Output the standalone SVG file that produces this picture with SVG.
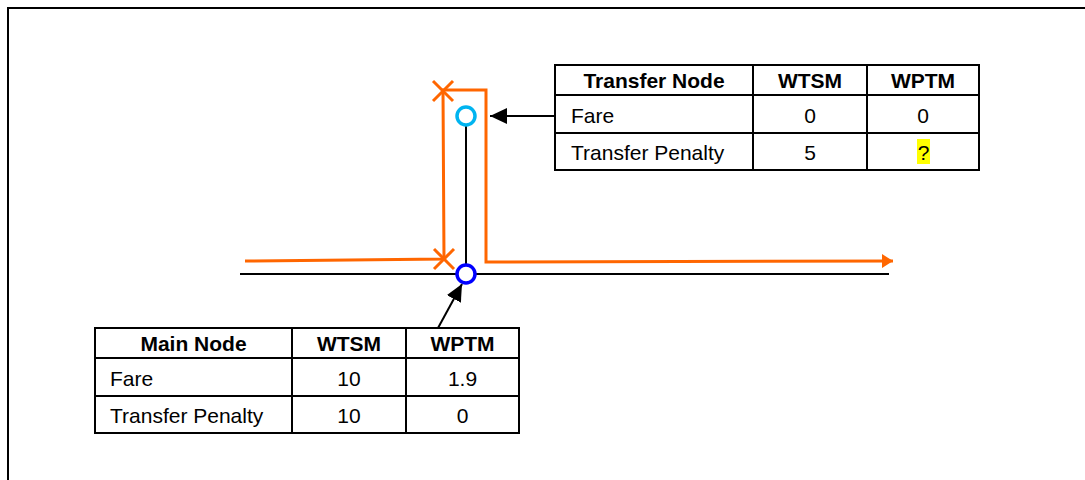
<svg xmlns="http://www.w3.org/2000/svg" width="1085" height="480" viewBox="0 0 1085 480">
<style>
.tbl{fill:#fff;stroke:#000;stroke-width:2}
.grid{stroke:#000;stroke-width:2}
.h{font-family:"Liberation Sans",Arial,sans-serif;font-size:21px;font-weight:bold;fill:#000}
.t{font-family:"Liberation Sans",Arial,sans-serif;font-size:21px;fill:#000}
.or{fill:none;stroke:#FF6600;stroke-width:3}
.bl{fill:none;stroke:#000;stroke-width:2}
</style>
<defs>
<marker id="ao" markerWidth="12" markerHeight="14" refX="11" refY="7" orient="auto" markerUnits="userSpaceOnUse"><path d="M0,0 L11,7 L0,14 Z" fill="#FF6600"/></marker>
<marker id="ab" markerWidth="18" markerHeight="16" refX="17" refY="8" orient="auto" markerUnits="userSpaceOnUse"><path d="M0,0 L17,8 L0,16 Z" fill="#000"/></marker>
</defs>
<rect x="8" y="8" width="1090" height="500" fill="#fff" stroke="#000" stroke-width="2"/>
<g id="connectors">
<line class="bl" x1="240" y1="274" x2="889" y2="274"/>
<line class="bl" x1="466" y1="124" x2="466" y2="266"/>
<polyline class="or" points="245,261 444,259 443,90 486,90 486,262 893,261" marker-end="url(#ao)"/>
<line class="or" x1="433" y1="81" x2="453" y2="101"/>
<line class="or" x1="433" y1="101" x2="453" y2="81"/>
<line class="or" x1="434" y1="249" x2="454" y2="269"/>
<line class="or" x1="434" y1="269" x2="454" y2="249"/>
<line class="bl" x1="555" y1="116" x2="490" y2="116" marker-end="url(#ab)"/>
<line class="bl" x1="438" y1="328" x2="462" y2="284" marker-end="url(#ab)"/>
</g>
<g id="main-node"><circle cx="466" cy="274" r="9" fill="#fff" stroke="#0000FF" stroke-width="3.5"/></g>
<g id="transfer-node"><circle cx="466" cy="116" r="9" fill="#fff" stroke="#00B4F0" stroke-width="3.5"/></g>
<g id="transfer-table">
<rect class="tbl" x="555" y="65" width="424" height="105"/>
<line class="grid" x1="753" y1="65" x2="753" y2="170"/>
<line class="grid" x1="867" y1="65" x2="867" y2="170"/>
<line class="grid" x1="555" y1="95" x2="979" y2="95"/>
<line class="grid" x1="555" y1="133" x2="979" y2="133"/>
<text class="h" x="654" y="88" text-anchor="middle">Transfer Node</text>
<text class="h" x="810" y="88" text-anchor="middle">WTSM</text>
<text class="h" x="923" y="88" text-anchor="middle">WPTM</text>
<text class="t" x="571" y="123">Fare</text>
<text class="t" x="810" y="123" text-anchor="middle">0</text>
<text class="t" x="923" y="123" text-anchor="middle">0</text>
<text class="t" x="571" y="160">Transfer Penalty</text>
<text class="t" x="810" y="160" text-anchor="middle">5</text>
<rect x="917" y="139" width="13" height="25" fill="#FFFF00"/>
<text class="t" x="923.5" y="160" text-anchor="middle">?</text>
</g>
<g id="main-table">
<rect class="tbl" x="95" y="328" width="424" height="105"/>
<line class="grid" x1="292" y1="328" x2="292" y2="433"/>
<line class="grid" x1="406" y1="328" x2="406" y2="433"/>
<line class="grid" x1="95" y1="358" x2="519" y2="358"/>
<line class="grid" x1="95" y1="396" x2="519" y2="396"/>
<text class="h" x="193.5" y="351" text-anchor="middle">Main Node</text>
<text class="h" x="349" y="351" text-anchor="middle">WTSM</text>
<text class="h" x="462.5" y="351" text-anchor="middle">WPTM</text>
<text class="t" x="110" y="386">Fare</text>
<text class="t" x="349" y="386" text-anchor="middle">10</text>
<text class="t" x="462.5" y="386" text-anchor="middle">1.9</text>
<text class="t" x="110" y="423">Transfer Penalty</text>
<text class="t" x="349" y="423" text-anchor="middle">10</text>
<text class="t" x="462.5" y="423" text-anchor="middle">0</text>
</g>
</svg>
